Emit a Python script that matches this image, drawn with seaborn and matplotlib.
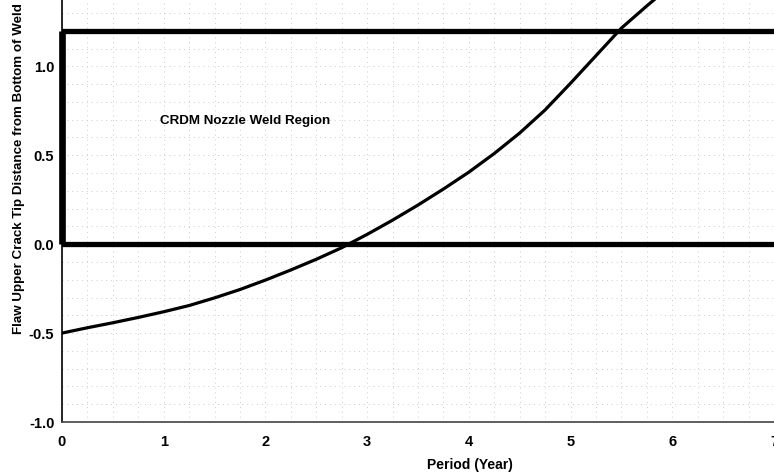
import matplotlib
matplotlib.use("Agg")
import matplotlib.pyplot as plt
from matplotlib.ticker import MultipleLocator, FormatStrFormatter
import pandas as pd
import seaborn as sns

# curve
period = [0, 0.25, 0.5, 0.75, 1.0, 1.25, 1.5, 1.75, 2.0, 2.25, 2.5, 2.75,
          3.0, 3.25, 3.5, 3.75, 4.0, 4.25, 4.5, 4.75, 5.0, 5.25, 5.5, 5.75, 6.0]
distance = [-0.50, -0.47, -0.442, -0.412, -0.38, -0.345, -0.302, -0.255, -0.202,
            -0.145, -0.085, -0.02, 0.055, 0.135, 0.22, 0.31, 0.405, 0.51, 0.625,
            0.755, 0.905, 1.06, 1.215, 1.34, 1.46]

# weld region box
region_bottom = 0.0
region_top = 1.2
region_label = "CRDM Nozzle Weld Region"

x_ticks = [0, 1, 2, 3, 4, 5, 6, 7]
y_ticks = [-1.0, -0.5, 0.0, 0.5, 1.0]

sns.set_style("white")
plt.rcParams["font.family"] = ["Liberation Sans", "DejaVu Sans"]
plt.rcParams["font.weight"] = "bold"
plt.rcParams["text.color"] = "black"
plt.rcParams["axes.labelcolor"] = "black"

df = pd.DataFrame({"Period": period, "Distance": distance})

fig = plt.figure(figsize=(7.74, 4.74), dpi=100)
ax = fig.add_axes([62 / 774, 1 - 422 / 474, 1 - 62 / 774, 422 / 474])

# box around the weld region
ax.axhline(region_top, color="black", lw=3.8, zorder=3)
ax.axhline(region_bottom, color="black", lw=3.8, zorder=3)
ax.plot([0, 0], [region_bottom, region_top], color="black", lw=4.8,
        solid_capstyle="butt", zorder=3, clip_on=False)

sns.lineplot(data=df, x="Period", y="Distance", color="black", lw=2.3,
             ax=ax, zorder=4)

ax.text(1.8, 0.695, region_label, ha="center", va="center",
        fontsize=9.6, fontweight="bold", color="black")

ax.set_xlim(0, 7)
ax.set_ylim(-1.0, 1.373)
ax.set_xticks(x_ticks)
ax.set_yticks(y_ticks)
ax.yaxis.set_major_formatter(FormatStrFormatter("%.1f"))
ax.xaxis.set_minor_locator(MultipleLocator(0.25))
ax.yaxis.set_minor_locator(MultipleLocator(0.1))
# faint dotted grid, like the scanned original
ax.grid(which="both", color="#cccccc", linestyle=(0, (1, 4)), lw=0.7)
ax.tick_params(which="minor", length=0)
ax.tick_params(which="major", direction="inout", length=5, width=1,
               labelsize=10.5, colors="black")
ax.tick_params(axis="x", pad=7)
ax.tick_params(axis="y", pad=3)

for side in ["top", "right"]:
    ax.spines[side].set_visible(False)
ax.spines["left"].set_color("black")
ax.spines["left"].set_linewidth(1.2)
ax.spines["bottom"].set_color("#444444")
ax.spines["bottom"].set_linewidth(1.2)

ax.set_xlabel("Period (Year)", fontsize=10, fontweight="bold")
ax.set_ylabel("Flaw Upper Crack Tip Distance from Bottom of Weld",
              fontsize=9.6, fontweight="bold")
ax.xaxis.set_label_coords(0.573, -0.085)
ax.yaxis.set_label_coords(-0.052, 0.6)

fig.savefig("out.png", dpi=100)
